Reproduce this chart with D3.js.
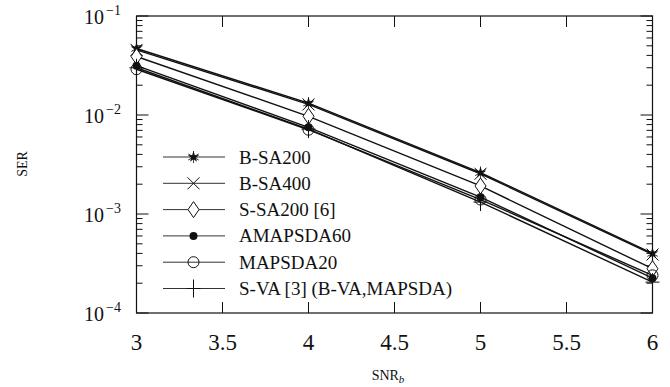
<!DOCTYPE html>
<html lang="en">
<head>
    <meta charset="UTF-8">
    <title>SER vs SNR</title>
    <style>
        body { margin: 0; background: white; }
        svg { display: block; }
        text { font-family: 'Liberation Serif', 'Times New Roman', 'DejaVu Serif', serif; fill: #111; }
        .leg { font-size: 19px; }
    </style>
</head>
<body>
    <svg id="chart" width="670" height="387"></svg>
    <script src="https://d3js.org/d3.v7.min.js"></script>
    <script>
        // valores
        const snr = [3, 4, 5, 6];
        const bsa200 = [0.0470, 0.0132, 0.00262, 0.00040];
        const bsa400 = [0.0455, 0.0128, 0.00255, 0.00039];
        const ssa200 = [0.0390, 0.0097, 0.00192, 0.00028];
        const amapsda60 = [0.0315, 0.0075, 0.00148, 0.000225];
        const mapsda20 = [0.0290, 0.0071, 0.00140, 0.000240];
        const sva = [0.0300, 0.0072, 0.00132, 0.000205];

        const seriesNames = ["B-SA200", "B-SA400", "S-SA200 [6]", "AMAPSDA60", "MAPSDA20", "S-VA [3] (B-VA,MAPSDA)"];
        const seriesMarks = ["star", "cross", "diamond", "dot", "circle", "plus"];
        const seriesValues = [bsa200, bsa400, ssa200, amapsda60, mapsda20, sva];

        const xTicks = [3, 3.5, 4, 4.5, 5, 5.5, 6];
        const yExps = [-1, -2, -3, -4];

        const pLeft = 136.5, pRight = 652.5, pTop = 16, pBottom = 313;
        const serif = "'Liberation Serif', 'Times New Roman', 'DejaVu Serif', serif";
        const svg = d3.select("#chart");

        const x = d3.scaleLinear().domain([3, 6]).range([pLeft, pRight]);
        const y = d3.scaleLog().domain([1e-4, 1e-1]).range([pBottom, pTop]);

        // moldura
        svg.append("rect")
            .attr("x", pLeft).attr("y", pTop)
            .attr("width", pRight - pLeft).attr("height", pBottom - pTop)
            .attr("fill", "none").attr("stroke", "#111").attr("stroke-width", 1.2);

        // ticks do eixo x (em baixo e em cima)
        xTicks.forEach(t => {
            svg.append("line").attr("x1", x(t)).attr("x2", x(t))
                .attr("y1", pBottom).attr("y2", pBottom - 11).attr("stroke", "#111");
            svg.append("line").attr("x1", x(t)).attr("x2", x(t))
                .attr("y1", pTop).attr("y2", pTop + 11).attr("stroke", "#111");
            svg.append("text")
                .attr("font-family", serif)
                .attr("x", x(t)).attr("y", 350)
                .attr("text-anchor", "middle")
                .style("font-size", "23px")
                .text(t);
        });

        // ticks do eixo y (log)
        for (let e = -4; e < -1; e++) {
            for (let m = 2; m <= 9; m++) {
                const v = m * Math.pow(10, e);
                [[pLeft, pLeft + 6], [pRight, pRight - 6]].forEach(([a, b]) => {
                    svg.append("line").attr("x1", a).attr("x2", b)
                        .attr("y1", y(v)).attr("y2", y(v)).attr("stroke", "#111");
                });
            }
        }
        yExps.forEach(e => {
            const v = Math.pow(10, e);
            [[pLeft, pLeft + 12], [pRight, pRight - 12]].forEach(([a, b]) => {
                svg.append("line").attr("x1", a).attr("x2", b)
                    .attr("y1", y(v)).attr("y2", y(v)).attr("stroke", "#111");
            });
            const t = svg.append("text")
                .attr("font-family", serif)
                .attr("x", 121).attr("y", y(v) + 8)
                .attr("text-anchor", "end")
                .style("font-size", "20px");
            t.append("tspan").text("10");
            t.append("tspan").attr("dx", 2).attr("dy", -9).style("font-size", "14px").text("\u2212" + (-e));
        });

        // titulos dos eixos
        const xt = svg.append("text")
            .attr("font-family", serif)
            .attr("x", 388).attr("y", 380)
            .attr("text-anchor", "middle").style("font-size", "14px");
        xt.append("tspan").text("SNR");
        xt.append("tspan").attr("dy", 3).style("font-size", "11px").style("font-style", "italic").text("b");
        svg.append("text")
            .attr("font-family", serif)
            .attr("transform", "translate(27,164) rotate(-90)")
            .attr("text-anchor", "middle").style("font-size", "14px")
            .text("SER");

        function drawMark(g, kind, cx, cy) {
            const s = g.append("g").attr("transform", `translate(${cx},${cy})`);
            if (kind === "star") {
                s.append("path").attr("d", d3.symbol(d3.symbolStar, 40)())
                    .attr("fill", "#111");
                [0, 60, 120].forEach(a => {
                    s.append("line").attr("x1", -6).attr("x2", 6).attr("y1", 0).attr("y2", 0)
                        .attr("transform", `rotate(${a + 90})`)
                        .attr("stroke", "#111").attr("stroke-width", 0.8);
                });
            } else if (kind === "cross") {
                s.append("path").attr("d", "M-6,-6L6,6M-6,6L6,-6")
                    .attr("stroke", "#111").attr("stroke-width", 1);
            } else if (kind === "diamond") {
                s.append("path").attr("d", "M0,-8L5.5,0L0,8L-5.5,0Z")
                    .attr("fill", "white").attr("stroke", "#111").attr("stroke-width", 1);
            } else if (kind === "dot") {
                s.append("circle").attr("r", 4).attr("fill", "#111");
            } else if (kind === "circle") {
                s.append("circle").attr("r", 5.5)
                    .attr("fill", "none").attr("stroke", "#111").attr("stroke-width", 1);
            } else if (kind === "plus") {
                s.append("path").attr("d", "M0,-9L0,9M-7,0L7,0")
                    .attr("stroke", "#111").attr("stroke-width", 1);
            }
        }

        const line = d3.line().x((d, i) => x(snr[i])).y(d => y(d));

        seriesValues.forEach((vals, k) => {
            svg.append("path").datum(vals)
                .attr("d", line)
                .attr("fill", "none").attr("stroke", "#111").attr("stroke-width", 1.4);
        });
        seriesValues.forEach((vals, k) => {
            vals.forEach((v, i) => drawMark(svg, seriesMarks[k], x(snr[i]), y(v)));
        });

        // legenda
        const legY0 = 157, legDy = 26.3;
        seriesNames.forEach((name, k) => {
            const ly = legY0 + k * legDy;
            svg.append("line").attr("x1", 163).attr("x2", 225)
                .attr("y1", ly).attr("y2", ly).attr("stroke", "#333").attr("stroke-width", 1);
            drawMark(svg, seriesMarks[k], 193.5, ly);
            svg.append("text").attr("class", "leg")
                .attr("font-family", serif)
                .attr("x", 239).attr("y", ly + 6.5).text(name);
        });
    </script>
</body>
</html>
